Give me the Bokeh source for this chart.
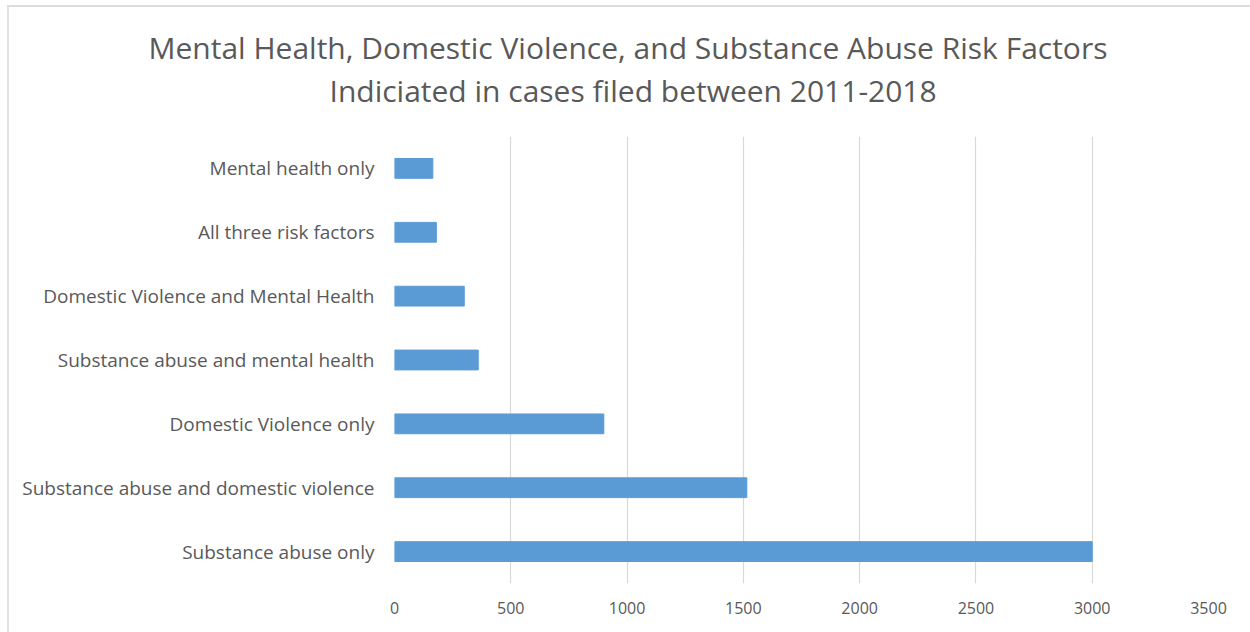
from bokeh.plotting import figure
from bokeh.models import FactorRange, Range1d, FixedTicker, Title
from bokeh.embed import file_html
from bokeh.resources import INLINE

categories = [
    "Substance abuse only",
    "Substance abuse and domestic violence",
    "Domestic Violence only",
    "Substance abuse and mental health",
    "Domestic Violence and Mental Health",
    "All three risk factors",
    "Mental health only",
]
counts = [3000, 1515, 900, 360, 300, 180, 165]
x_ticks = [0, 500, 1000, 1500, 2000, 2500, 3000, 3500]
title_lines = [
    "Mental Health, Domestic Violence, and Substance Abuse Risk Factors",
    "Indiciated in cases filed between 2011-2018",
]

TEXT = "#595959"
FONT = "Open Sans"

p = figure(width=1250, height=632, y_range=FactorRange(*categories),
           x_range=Range1d(0, 3500), output_backend="svg", toolbar_location=None,
           min_border_left=394, min_border_right=42, min_border_top=136,
           min_border_bottom=49)
p.hbar(y=categories, right=counts, left=0, height=0.31, color="#5b9bd5")

# two-line title, added nearest-first
p.add_layout(Title(text=title_lines[1], align="left", offset=-65, standoff=52,
                   text_font=FONT, text_font_size="30px", text_font_style="normal",
                   text_color=TEXT), "above")
p.add_layout(Title(text=title_lines[0], align="left", offset=-246, standoff=-52,
                   text_font=FONT, text_font_size="30px", text_font_style="normal",
                   text_color=TEXT), "above")

p.background_fill_color = None
p.border_fill_color = None
p.outline_line_color = None
p.ygrid.grid_line_color = None
p.xgrid.grid_line_color = "#d9d9d9"
p.xgrid.grid_line_width = 1.2
p.xaxis.ticker = FixedTicker(ticks=x_ticks)
p.xaxis.axis_line_color = None
p.xaxis.major_tick_line_color = None
p.xaxis.minor_tick_line_color = None
p.xaxis.major_label_text_color = TEXT
p.xaxis.major_label_text_font = FONT
p.xaxis.major_label_text_font_size = "16px"
p.xaxis.major_label_standoff = 12
p.yaxis.axis_line_color = None
p.yaxis.major_tick_line_color = None
p.yaxis.minor_tick_line_color = None
p.yaxis.major_label_text_color = TEXT
p.yaxis.major_label_text_font = FONT
p.yaxis.major_label_text_font_size = "19px"
p.yaxis.major_label_standoff = 14

p.styles = {
    "background": "linear-gradient(#dcdcdc,#dcdcdc) 7px 5px / 1243px 2px no-repeat, "
                  "linear-gradient(#e2e2e2,#e2e2e2) 7px 5px / 2px 627px no-repeat, white"
}

open("out.html", "w").write(file_html(p, INLINE))
